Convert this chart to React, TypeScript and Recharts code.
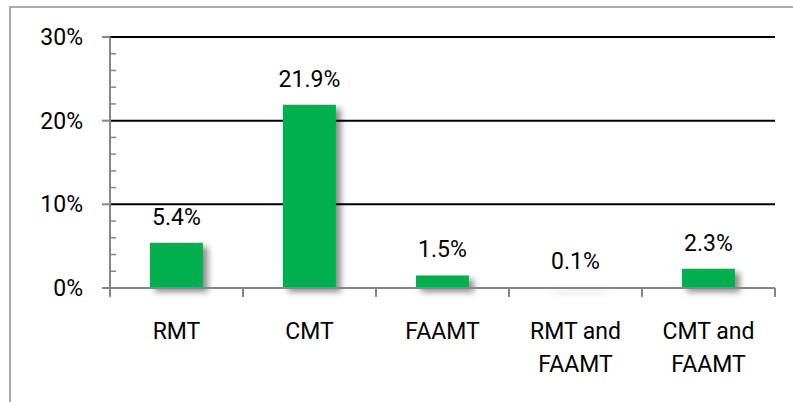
import { Bar, BarChart, CartesianGrid, LabelList, XAxis, YAxis } from "recharts";

const categories = ["RMT", "CMT", "FAAMT", "RMT and\nFAAMT", "CMT and\nFAAMT"];
const shares = [5.4, 21.9, 1.5, 0.1, 2.3];
const majorTicks = [0, 10, 20, 30];
const gridValues = [10, 20, 30];
const yTicks = [0, 2, 4, 6, 8, 10, 12, 14, 16, 18, 20, 22, 24, 26, 28, 30];

const data = categories.map((name, i) => ({ name, share: shares[i] }));

const W = 793;
const H = 402;
const Y_AXIS_W = 110;
const X_AXIS_H = 114;
const margin = { top: 37, right: 18, bottom: 0, left: 0 };
const band = (W - margin.left - margin.right - Y_AXIS_W) / categories.length;

const AXIS = "#868686";
const GREEN = "#00B050";
const FONT = "Roboto, 'Open Sans', sans-serif";
const FS = 23;

function YTick({ x, y, payload }: any) {
  const v = payload.value;
  if (majorTicks.includes(v)) {
    return (
      <g>
        <line x1={x - 8} x2={x} y1={y} y2={y} stroke={AXIS} strokeWidth={2} />
        <text x={x - 27} y={y + 8} textAnchor="end" fontSize={FS} fontFamily={FONT} fill="#000">
          {v}%
        </text>
      </g>
    );
  }
  return <line x1={x} x2={x + 6} y1={y} y2={y} stroke={AXIS} strokeWidth={1.5} />;
}

function XTick({ x, y, payload, index }: any) {
  const lines = String(payload.value).split("\n");
  const left = x - band / 2;
  const right = x + band / 2;
  return (
    <g>
      <line x1={left} x2={left} y1={y} y2={y + 9} stroke={AXIS} strokeWidth={2} />
      {index === categories.length - 1 && (
        <line x1={right} x2={right} y1={y} y2={y + 9} stroke={AXIS} strokeWidth={2} />
      )}
      <text x={x} y={y + 51} textAnchor="middle" fontSize={FS} fontFamily={FONT} fill="#000">
        {lines.map((l, i) => (
          <tspan key={i} x={x} dy={i === 0 ? 0 : 33}>
            {l}
          </tspan>
        ))}
      </text>
    </g>
  );
}

function ShadowBar({ x, y, width, height, fill }: any) {
  return <rect x={x} y={y} width={width} height={height} fill={fill} filter="url(#barShadow)" />;
}

export default function App() {
  return (
    <div style={{ position: "absolute", left: 0, top: 0, width: W, height: H, overflow: "hidden", background: "#fff" }}>
      <div
        style={{
          position: "absolute",
          left: 9,
          top: 6,
          width: 820,
          height: 420,
          borderLeft: "2px solid #ababab",
          borderTop: "2px solid #ababab",
        }}
      />
      <div style={{ position: "absolute", left: 0, top: 0 }}>
        <BarChart width={W} height={H} data={data} margin={margin} barCategoryGap="30%">
          <defs>
            <filter id="barShadow" filterUnits="userSpaceOnUse" x={0} y={0} width={W} height={H}>
              <feDropShadow dx={5} dy={4} stdDeviation={3} floodColor="#000" floodOpacity={0.45} />
            </filter>
          </defs>
          <CartesianGrid vertical={false} horizontalValues={gridValues} stroke="#000" strokeWidth={2} />
          <XAxis
            dataKey="name"
            height={X_AXIS_H}
            interval={0}
            tickSize={0}
            tickMargin={0}
            tickLine={false}
            axisLine={{ stroke: AXIS, strokeWidth: 2 }}
            tick={(p: any) => <XTick {...p} />}
          />
          <YAxis
            width={Y_AXIS_W}
            domain={[0, 30]}
            ticks={yTicks}
            interval={0}
            tickSize={0}
            tickMargin={0}
            tickLine={false}
            axisLine={{ stroke: AXIS, strokeWidth: 2 }}
            tick={(p: any) => <YTick {...p} />}
          />
          <Bar dataKey="share" fill={GREEN} isAnimationActive={false} shape={(p: any) => <ShadowBar {...p} />}>
            <LabelList
              dataKey="share"
              position="top"
              offset={18}
              formatter={(v: any) => `${v}%`}
              fill="#000"
              fontSize={FS}
              fontFamily={FONT}
            />
          </Bar>
        </BarChart>
      </div>
    </div>
  );
}
